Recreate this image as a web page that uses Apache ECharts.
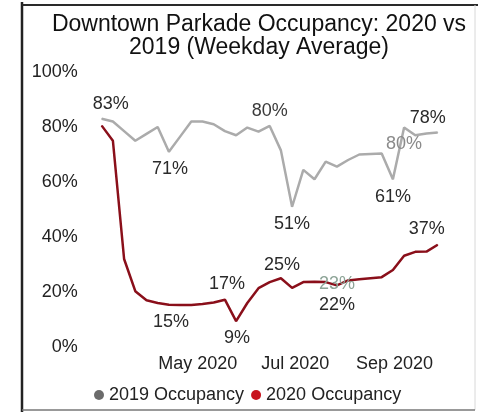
<!DOCTYPE html>
<html>
<head>
<meta charset="utf-8">
<script src="https://cdn.jsdelivr.net/npm/echarts@6/dist/echarts.min.js"></script>
<style>
html,body{margin:0;padding:0;background:#fff;}
#chart{width:480px;height:414px;}
</style>
</head>
<body>
<div id="chart"></div>
<script>
// Weekly dates (weekday averages)
const weeks = ['2020-03-02','2020-03-09','2020-03-16','2020-03-23','2020-03-30',
  '2020-04-06','2020-04-13','2020-04-20','2020-04-27',
  '2020-05-04','2020-05-11','2020-05-18','2020-05-25',
  '2020-06-01','2020-06-08','2020-06-15','2020-06-22','2020-06-29',
  '2020-07-06','2020-07-13','2020-07-20','2020-07-27',
  '2020-08-03','2020-08-10','2020-08-17','2020-08-24','2020-08-31',
  '2020-09-07','2020-09-14','2020-09-21','2020-09-28'];
const occ2019 = [83, 82, 78.5, 75, 77.5, 80, 71, 76.5, 82, 82, 81, 78.5, 77, 79.8, 78.3, 80.4, 71.5, 51, 64.4, 61, 67.4, 65.6, 68, 70, 70.2, 70.4, 61, 79.8, 77, 77.6, 78];
const occ2020 = [80.5, 75, 32, 20.3, 17, 16, 15.4, 15.3, 15.3, 15.6, 16.2, 17.2, 9.4, 16, 21.4, 23.6, 25, 21.5, 23.6, 23.7, 23.6, 22.4, 24.2, 24.6, 25, 25.4, 28, 33.2, 34.6, 34.7, 37.2];
const yTicks = [0, 20, 40, 60, 80, 100];
const xTickMonths = [4, 6, 8]; // May, Jul, Sep (0-based months)
const xTickLabels = ['May 2020', 'Jul 2020', 'Sep 2020'];
const seriesNames = ['2019 Occupancy', '2020 Occupancy'];
// labelled points: [index, position, distance, offsetX, color]
const labels2019 = [[0,'top',5,9,'#2a2a2a'],[6,'bottom',8,1,'#2a2a2a'],[15,'top',5,0,'#3a3a3a'],[17,'bottom',8,0,'#2a2a2a'],[26,'bottom',8,0,'#2a2a2a'],[27,'bottom',7,0,'#8a8a8a'],[30,'top',5,-10,'#2a2a2a']];
const labels2020 = [[6,'bottom',8,2,'#2a2a2a'],[11,'top',6,2,'#2a2a2a'],[12,'bottom',7,1,'#2a2a2a'],[16,'top',4,1,'#2a2a2a'],[21,'bottom',10,0,'#2a2a2a'],[30,'top',6,-11,'#2a2a2a']];
const extraLabel2020 = {date: '2020-07-27', value: 23};

const FONT = '"Liberation Sans", Arial, sans-serif';
function build(vals, lbls){
  return vals.map((v,i)=>{
    const item = {value:[weeks[i], v]};
    const l = lbls.find(a=>a[0]===i);
    if(l){
      item.label = {show:true, position:l[1], distance:l[2], offset:[l[3],0], color:l[4],
        fontSize:18, fontFamily:FONT, formatter:(p)=>Math.round(p.value[1])+'%'};
    }
    return item;
  });
}
const DAY = 86400000;

const chart = echarts.init(document.getElementById('chart'), null, {renderer:'canvas'});
chart.setOption({
  backgroundColor:'#fff',
  animation:false,
  title:{
    text:'Downtown Parkade Occupancy: 2020 vs\n2019 (Weekday Average)',
    left:254, top:8, textAlign:'center',
    textStyle:{fontSize:23, lineHeight:23, fontWeight:'normal', color:'#111', fontFamily:FONT}
  },
  grid:{left:101.7, right:42.3, top:72, bottom:67, containLabel:false},
  legend:{
    left:89, top:381, itemWidth:10, itemHeight:10, itemGap:7,
    textStyle:{fontSize:18, color:'#222', fontFamily:FONT},
    data:[{name:seriesNames[0], icon:'circle', itemStyle:{color:'#6b6b6b'}},
          {name:seriesNames[1], icon:'circle', itemStyle:{color:'#c8141e'}}]
  },
  xAxis:{
    type:'time',
    min:weeks[0],
    max:weeks[weeks.length-1],
    minInterval:28*DAY, maxInterval:31*DAY,
    axisLine:{show:false}, axisTick:{show:false}, splitLine:{show:false},
    axisLabel:{
      formatter:(v)=>{
        const d = new Date(v);
        if(d.getDate()!==1) return '';
        const idx = xTickMonths.indexOf(d.getMonth());
        return idx>=0 ? xTickLabels[idx] : '';
      },
      fontSize:18, color:'#222', fontFamily:FONT, margin:8,
      showMinLabel:false, showMaxLabel:false, hideOverlap:false
    }
  },
  yAxis:{
    type:'value', min:yTicks[0], max:yTicks[yTicks.length-1], interval:20,
    axisLine:{show:false}, axisTick:{show:false}, splitLine:{show:false},
    axisLabel:{formatter:'{value}%', fontSize:18, color:'#222', fontFamily:FONT, margin:24}
  },
  series:[
    {
      name:seriesNames[0], type:'line', data:build(occ2019, labels2019),
      symbol:'circle', symbolSize:1, showSymbol:true, showAllSymbol:true,
      lineStyle:{color:'#ababab', width:2.5}, itemStyle:{color:'#ababab'},
      z:2
    },
    {
      name:seriesNames[1], type:'line', data:build(occ2020, labels2020),
      symbol:'circle', symbolSize:1, showSymbol:true, showAllSymbol:true,
      lineStyle:{color:'#8a0f1a', width:2.5}, itemStyle:{color:'#8a0f1a'},
      z:3,
      markPoint:{
        symbol:'circle', symbolSize:1, itemStyle:{color:'rgba(0,0,0,0)'},
        label:{show:true, position:'inside', fontSize:18, fontFamily:FONT, color:'#8da497', formatter:(p)=>p.value+'%'},
        data:[{coord:[extraLabel2020.date, extraLabel2020.value], value:extraLabel2020.value}]
      }
    }
  ],
  graphic:[
    {type:'line', shape:{x1:22, y1:2, x2:22, y2:412}, style:{stroke:'#222', lineWidth:2.5}, silent:true},
    {type:'line', shape:{x1:22, y1:5, x2:478, y2:5}, style:{stroke:'#2a2a2a', lineWidth:2}, silent:true},
    {type:'line', shape:{x1:475, y1:5, x2:475, y2:410}, style:{stroke:'#d8d8d8', lineWidth:1}, silent:true},
    {type:'line', shape:{x1:22, y1:410, x2:475, y2:410}, style:{stroke:'#777', lineWidth:1.5}, silent:true}
  ]
});
</script>
</body>
</html>
